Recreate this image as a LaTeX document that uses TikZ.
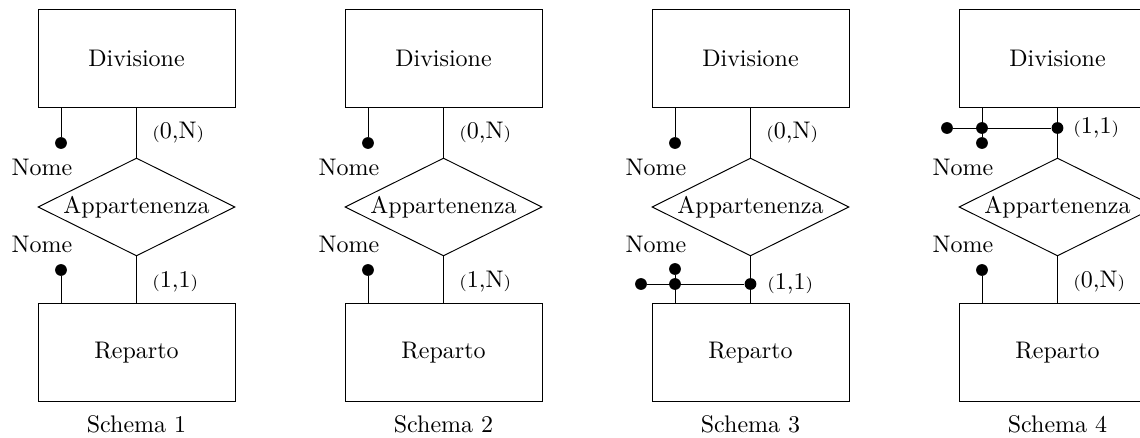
\documentclass[tikz,border=0pt]{standalone}
\usetikzlibrary{shapes.geometric}
\newcommand\crd[1]{{\scriptsize(}#1{\scriptsize)}}
\tikzset{
  entity/.style={draw, minimum width=82.1pt, minimum height=40.8pt, inner sep=0pt},
  rel/.style={draw, diamond, aspect=2, minimum width=82.1pt, minimum height=40.8pt, inner sep=0pt},
  dot/.style={circle, fill=black, inner sep=0pt, minimum size=4.9pt},
  lbl/.style={inner sep=0pt, anchor=base},
  cardl/.style={inner sep=0pt, anchor=west},
}
% #1 index, #2 x offset, #3 upper card, #4 lower card
\newcommand\erbase[4]{%
  \node[entity] (div#1) at (#2+136.5,58.5) {Divisione};
  \node[entity] (rep#1) at (#2+136.5,352.5) {Reparto};
  \node[rel] (app#1) at (#2+136.5,207) {Appartenenza};
  \draw (div#1.south) -- (app#1.north);
  \draw (app#1.south) -- (rep#1.north);
  \node[lbl] (nu#1) at (#2+42,176) {Nome};
  \node[lbl] (nl#1) at (#2+42,253) {Nome};
  \node[lbl] (sc#1) at (#2+136.5,433) {Schema #1};
}
% simple attribute on Divisione
\newcommand\attrup[2]{%
  \node[dot] (du#1) at (#2+61,143) {};
  \coordinate (au#1) at (du#1 |- div#1.south);
  \draw (au#1) -- (du#1);
}
% simple attribute on Reparto
\newcommand\attrdown[2]{%
  \node[dot] (dl#1) at (#2+61,270) {};
  \coordinate (al#1) at (dl#1 |- rep#1.north);
  \draw (al#1) -- (dl#1);
}
\begin{document}
\begin{tikzpicture}[x=0.4167pt, y=-0.4167pt]
\useasboundingbox (0,0) rectangle (1140,438);

% Schema 1
\erbase{1}{0}{0,N}{1,1}
\node[cardl] (cu1) at (152,133) {\crd{0,N}};
\node[cardl] (cl1) at (152,282) {\crd{1,1}};
\attrup{1}{0}
\attrdown{1}{0}

% Schema 2
\erbase{2}{307}{0,N}{1,N}
\node[cardl] (cu2) at (307+152,133) {\crd{0,N}};
\node[cardl] (cl2) at (307+152,282) {\crd{1,N}};
\attrup{2}{307}
\attrdown{2}{307}

% Schema 3
\erbase{3}{614}{0,N}{1,1}
\node[cardl] (cu3) at (614+152,133) {\crd{0,N}};
\node[cardl] (cl3) at (614+153,284) {\crd{1,1}};
\attrup{3}{614}
\node[dot] (dl3) at (614+61,269) {};
\node[dot] (hl3) at (614+27,284) {};
\node[dot] (hm3) at (614+61,284) {};
\node[dot] (hr3) at (614+136.5,284) {};
\coordinate (al3) at (dl3 |- rep3.north);
\draw (al3) -- (dl3);
\draw (hl3) -- (hr3);

% Schema 4
\erbase{4}{921}{1,1}{0,N}
\node[cardl] (cu4) at (921+152,128) {\crd{1,1}};
\node[cardl] (cl4) at (921+152,282) {\crd{0,N}};
\node[dot] (du4) at (921+61,143) {};
\node[dot] (hl4) at (921+26,128) {};
\node[dot] (hm4) at (921+61,128) {};
\node[dot] (hr4) at (921+136.5,128) {};
\coordinate (au4) at (du4 |- div4.south);
\draw (au4) -- (du4);
\draw (hl4) -- (hr4);
\attrdown{4}{921}
\end{tikzpicture}
\end{document}
